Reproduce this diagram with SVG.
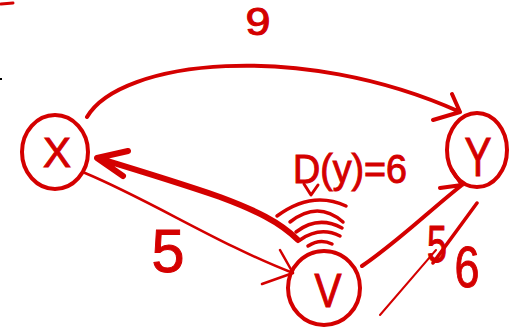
<svg xmlns="http://www.w3.org/2000/svg" width="518" height="332" viewBox="0 0 518 332">
<style>
.ln{fill:none;stroke:#d40000;stroke-linecap:round;stroke-linejoin:round}
.nd{fill:none;stroke:#d40000;stroke-width:4}
.t{fill:#d40000;stroke:#d40000;stroke-width:1;font-family:"Liberation Sans",Arial,sans-serif;text-anchor:middle}
</style>
<rect width="518" height="332" fill="#fff"/>
<path class="ln" d="M1,4 L13,3" stroke-width="3"/>
<path d="M0,78 L2,78 L2,80 L0,80 Z" fill="#000"/>
<g id="node-X">
<ellipse class="nd" cx="55" cy="152" rx="33" ry="37"/>
<text class="t" x="57" y="167" font-size="42" textLength="28" lengthAdjust="spacingAndGlyphs">X</text>
</g>
<g id="node-Y">
<ellipse class="nd" cx="477" cy="150" rx="30" ry="37"/>
<text class="t" x="478" y="176" font-size="56" textLength="27" lengthAdjust="spacingAndGlyphs">Y</text>
</g>
<g id="node-V">
<ellipse class="nd" cx="324" cy="288" rx="36" ry="37"/>
<text class="t" x="328" y="307" font-size="48" textLength="27" lengthAdjust="spacingAndGlyphs">V</text>
</g>
<g id="connectors">
<path class="ln" stroke-width="4" d="M87,117 C120,60 300,40 460,112 M452,94 L460,112 L433,120"/>
<path class="ln" stroke-width="6" d="M298,240 C280,222 255,210 220,197 C170,180 130,168 97,158 M128,151 L97,158 L123,176"/>
<path class="ln" stroke-width="2.5" d="M85,173 C150,200 220,245 293,273 M280,250 L293,273 L262,284"/>
<path class="ln" stroke-width="4" d="M362,266 C400,240 430,210 462,185 M440,188 L462,185 L452,170"/>
<path class="ln" stroke-width="2" d="M380,315 L436,250"/>
<path class="ln" stroke-width="3.5" d="M433,263 L477,203"/>
</g>
<g id="labels">
<text class="t" x="258" y="35" font-size="38" textLength="25" lengthAdjust="spacingAndGlyphs">9</text>
<text class="t" x="168" y="272" font-size="62" textLength="33" lengthAdjust="spacingAndGlyphs">5</text>
<text class="t" x="437" y="262" font-size="52" textLength="20" lengthAdjust="spacingAndGlyphs">5</text>
<text class="t" x="467" y="287" font-size="58" textLength="25" lengthAdjust="spacingAndGlyphs">6</text>
<text class="t" x="350" y="183" font-size="40" textLength="114" lengthAdjust="spacingAndGlyphs">D(y)=6</text>
</g>
<g id="broadcast">
<path class="ln" stroke-width="3" d="M304,184 L311,195 L318,185"/>
<path class="ln" stroke-width="3.5" d="M277,216 Q312,190 346,206 M290,222 Q318,200 343,222 M296,232 Q318,215 342,228 M300,240 Q320,226 340,236 M308,246 Q320,238 332,244"/>
</g>
</svg>
